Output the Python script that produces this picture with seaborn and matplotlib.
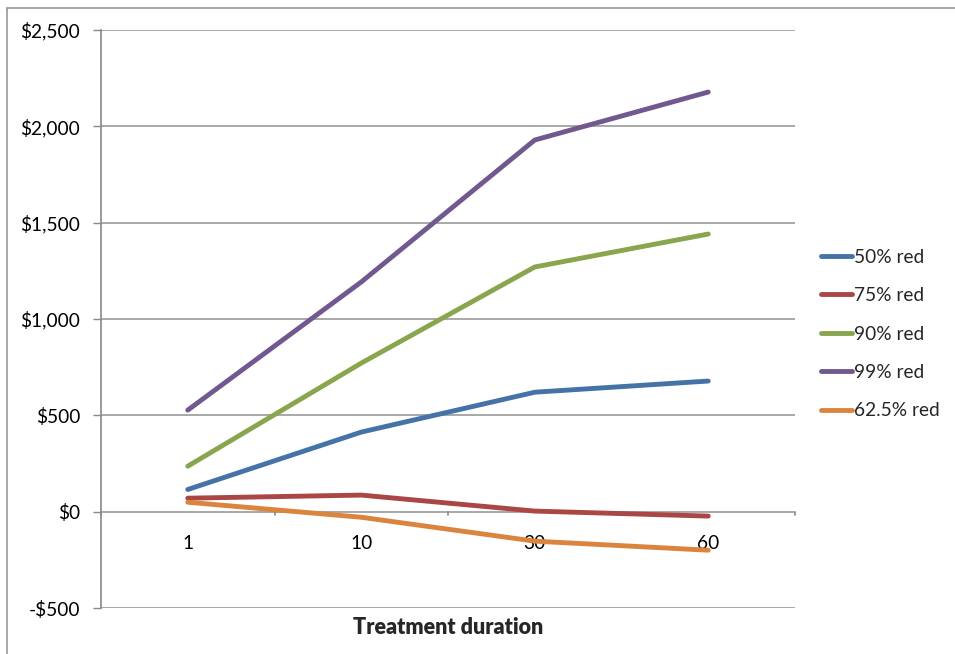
import matplotlib
matplotlib.use("Agg")
import matplotlib.pyplot as plt
import seaborn as sns
import pandas as pd
from matplotlib.lines import Line2D
from matplotlib.ticker import FuncFormatter

categories = ["1", "10", "30", "60"]
s50 = [115, 413, 620, 678]
s75 = [70, 86, 3, -23]
s90 = [236, 771, 1270, 1441]
s99 = [527, 1192, 1929, 2178]
s625 = [49, -29, -153, -200]
series_names = ["50% red", "75% red", "90% red", "99% red", "62.5% red"]
colors = ["#4573A7", "#AA4643", "#89A54E", "#71588F", "#DB843D"]

rows = []
for name, vals in zip(series_names, [s50, s75, s90, s99, s625]):
    for i, (c, v) in enumerate(zip(categories, vals)):
        rows.append({"series": name, "pos": i + 0.5, "cat": c, "value": v})
df = pd.DataFrame(rows)

sns.set_theme(style="white")
plt.rcParams["font.family"] = ["Lato", "DejaVu Sans"]
FS = 13.8

fig = plt.figure(figsize=(9.55, 6.54), dpi=100)
ax = fig.add_axes([101 / 955, 1 - 608 / 654, (795 - 101) / 955, (608 - 30) / 654])

sns.lineplot(data=df, x="pos", y="value", hue="series", hue_order=series_names,
             palette=colors, linewidth=3.5, ax=ax, legend=False,
             solid_capstyle="round", solid_joinstyle="round")

ax.set_xlim(0, 4)
ax.set_ylim(-500, 2500)
ax.set_yticks(range(-500, 2501, 500))
ax.yaxis.set_major_formatter(FuncFormatter(
    lambda v, p: ("-$" if v < 0 else "$") + f"{abs(int(v)):,}"))
ax.tick_params(axis="y", which="both", left=True, length=6, width=1,
               color="#888888", labelsize=FS, pad=9, labelcolor="black")
for v in range(-500, 2501, 500):
    ax.axhline(v, color="#999999", linewidth=1.2, zorder=0)

for s in ["top", "right", "bottom"]:
    ax.spines[s].set_visible(False)
ax.spines["left"].set_color("#888888")
ax.spines["left"].set_linewidth(1.2)

ax.set_xticks([])
ax.set_xlabel("")
ax.set_ylabel("")
# x axis line at 0 with category tick marks
for b in range(5):
    ax.plot([b, b], [0, -18], color="#888888", linewidth=1.2, zorder=1,
            clip_on=False)
for i, c in enumerate(categories):
    ax.text(i + 0.5, -165, c, ha="center", va="center", fontsize=FS,
            color="black", zorder=0)

fig.text((101 + 795) / 2 / 955, 1 - 628 / 654, "Treatment duration",
         ha="center", va="center", fontsize=15.5, fontweight="heavy")

handles = [Line2D([0], [0], color=c, linewidth=3.5, solid_capstyle="round")
           for c in colors]
leg = fig.legend(handles, series_names, loc="center left",
                 bbox_to_anchor=(804 / 955, 1 - 334 / 654), frameon=False,
                 fontsize=FS, handlelength=1.6, handletextpad=0.1,
                 labelspacing=1.12)

fig.add_artist(Line2D([7 / 955, 7 / 955], [0, 1 - 8 / 654], color="#999999",
                      linewidth=1.2, transform=fig.transFigure))
fig.add_artist(Line2D([7 / 955, 1], [1 - 8 / 654, 1 - 8 / 654],
                      color="#999999", linewidth=1.2,
                      transform=fig.transFigure))

fig.savefig("out.png", dpi=100)
